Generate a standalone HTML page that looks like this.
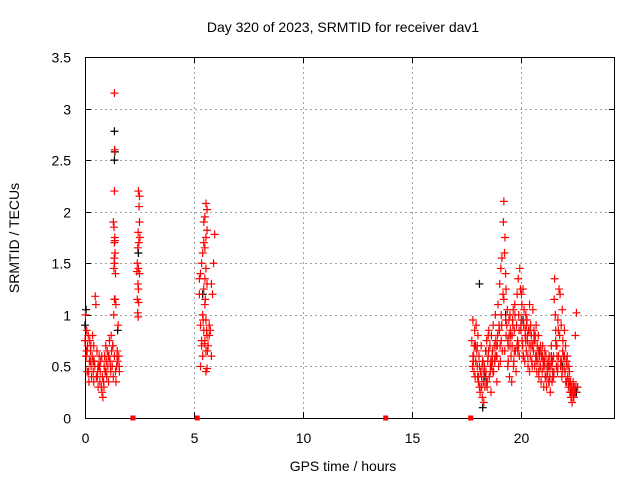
<!DOCTYPE html>
<html><head><meta charset="utf-8"><style>
body{margin:0;background:#fff;width:640px;height:480px;overflow:hidden}
text{font-family:"Liberation Sans",sans-serif;font-size:14px;fill:#000}
</style></head><body>
<svg id="chart" width="640" height="480" viewBox="0 0 640 480" xmlns="http://www.w3.org/2000/svg">
<rect width="640" height="480" fill="#fff"/>
<text x="343" y="32" text-anchor="middle">Day 320 of 2023, SRMTID for receiver dav1</text>
<text x="343" y="471" text-anchor="middle">GPS time / hours</text>
<text transform="translate(19,238) rotate(-90)" text-anchor="middle">SRMTID / TECUs</text>
<g id="grid"></g><g id="axes"></g><g id="marks"></g>
</svg>
<script>
const xTicks=[0,5,10,15,20];
const yTicks=[0,0.5,1,1.5,2,2.5,3,3.5];
const yTickLabels=["0","0.5","1","1.5","2","2.5","3","3.5"];
const gapHours=[2.2,5.15,13.8,17.7];
const redX=[0,0.02,0.05,0.08,0.1,0.12,0.15,0.18,0.2,0.22,0.25,0.28,0.3,0.33,0.35,0.38,0.4,0.42,0.45,0.47,0.5,0.52,0.55,0.58,0.6,0.62,0.65,0.68,0.7,0.72,0.75,0.78,0.8,0.82,0.85,0.88,0.9,0.92,0.95,0.98,1.0,1.02,1.05,1.08,1.1,1.12,1.15,1.18,1.2,1.22,1.25,1.28,1.3,1.32,1.35,1.38,1.4,1.42,1.45,1.48,1.5,1.52,1.55,1.58,0.1,0.25,0.4,0.6,0.15,0.05,
1.35,1.36,1.35,1.3,1.33,1.37,1.35,1.38,1.34,1.36,1.4,1.37,1.33,1.35,1.42,
2.45,2.5,2.48,2.5,2.44,2.52,2.47,2.42,2.4,2.45,2.38,2.5,2.43,2.45,2.4,2.46,2.42,2.44,
5.55,5.6,5.5,5.45,5.6,5.55,5.45,5.5,5.4,5.35,5.55,5.3,5.5,5.6,5.45,5.25,5.5,5.4,5.55,5.3,5.45,5.6,5.5,5.35,5.55,5.4,5.3,5.6,5.55,5.95,5.9,5.8,5.75,5.7,5.85,5.65,5.8,5.7,5.25,5.35,
17.75,17.78,17.8,17.83,17.85,17.88,17.9,17.93,17.95,17.98,18.0,18.03,18.05,18.08,18.1,18.13,18.15,18.18,18.2,18.23,18.25,18.28,18.3,18.33,18.35,18.38,18.4,18.43,18.45,18.48,18.5,18.53,18.55,18.58,18.6,18.63,18.65,18.68,18.7,18.73,18.75,18.78,18.8,18.83,18.85,18.88,18.9,18.93,18.95,18.98,19.0,19.03,19.05,19.08,19.1,19.13,19.15,19.18,19.2,19.22,19.25,19.27,19.3,19.32,19.35,19.38,19.4,19.42,19.45,19.48,19.5,19.53,19.55,19.58,19.6,19.63,19.65,19.68,19.7,19.73,19.75,19.78,19.8,19.83,19.85,19.88,19.9,19.93,19.95,19.98,20.0,20.03,20.05,20.08,20.1,20.13,20.15,20.18,20.2,20.23,20.25,20.28,20.3,20.33,20.35,20.38,20.4,20.43,20.45,20.48,20.5,20.53,20.55,20.58,20.6,20.63,20.65,20.68,20.7,20.73,20.75,20.78,20.8,20.83,20.85,20.88,20.9,20.93,20.95,20.98,21.0,21.03,21.05,21.08,21.1,21.13,21.15,21.18,21.2,21.23,21.25,21.28,21.3,21.33,21.35,21.38,21.4,21.43,21.45,21.48,21.5,21.53,21.55,21.58,21.6,21.63,21.65,21.68,21.7,21.73,21.75,21.78,21.8,21.83,21.85,21.88,21.9,21.93,21.95,21.98,22.0,22.03,22.05,22.08,22.1,22.13,22.15,22.18,22.2,22.23,22.25,22.28,22.3,22.33,22.35,22.38,22.4,22.43,22.45,22.5,22.55,22.6,
17.8,17.9,18.0,18.1,18.2,18.4,18.5,18.6,18.7,18.9,19.0,19.1,19.3,19.4,19.6,19.7,19.9,20.0,20.1,20.2,20.4,20.6,20.7,20.9,21.0,21.2,21.3,21.4,21.6,21.7,21.9,22.0,22.2,22.4,22.5,18.3,18.8,19.5,20.3,20.8,21.1,21.5,22.1,22.3,
17.82,17.92,18.02,18.12,18.22,18.32,18.42,18.52,18.62,18.72,18.82,18.92,19.02,19.12,19.22,19.32,19.42,19.52,19.62,19.72,19.82,19.92,20.02,20.12,20.22,20.32,20.42,20.52,20.62,20.72,20.82,20.92,21.02,21.12,21.22,21.32,21.42,21.52,21.62,21.72,21.82,21.92,22.02,22.12,22.22,22.32,22.42,22.52,
17.86,18.06,18.26,18.46,18.66,18.86,19.06,19.26,19.46,19.66,19.86,20.06,20.26,20.46,20.66,20.86,21.06,21.26,21.46,21.66,21.86,22.06,22.26,22.46,
0.07,0.17,0.27,0.37,0.57,0.67,0.77,0.87,0.97,1.07,1.17,1.27,1.47,1.57,5.42,5.52,5.62,5.48,5.58];
const redY=[0.75,1.0,0.6,0.85,0.45,0.7,0.8,0.35,0.55,0.75,0.65,0.5,0.4,0.6,0.8,0.45,0.35,0.55,0.5,1.18,1.1,0.4,0.65,0.45,0.3,0.5,0.6,0.35,0.45,0.55,0.3,0.25,0.4,0.2,0.35,0.5,0.6,0.45,0.7,0.55,0.4,0.65,0.5,0.35,0.6,0.75,0.55,0.45,0.8,0.65,0.5,0.7,0.4,1.0,0.6,1.15,0.45,0.35,0.5,0.65,0.55,0.9,0.6,0.45,0.65,0.55,0.7,0.5,0.45,0.6,
3.15,2.6,2.2,1.9,1.85,1.75,1.7,1.6,1.55,1.5,1.4,1.72,1.45,1.15,1.1,
2.2,2.15,2.05,1.9,1.8,1.75,1.7,1.65,1.5,1.45,1.42,1.4,1.3,1.25,1.15,1.12,1.02,0.98,
2.08,2.02,1.95,1.9,1.82,1.75,1.7,1.65,1.6,1.5,1.45,1.4,1.35,1.3,1.25,1.2,1.1,1.0,0.95,0.9,0.85,0.8,0.75,0.7,0.65,0.6,0.5,0.48,0.45,1.78,1.5,1.3,0.85,0.8,1.2,0.7,0.6,0.9,1.35,0.75,
0.75,0.5,0.95,0.6,0.45,0.85,0.7,0.55,0.9,0.65,0.5,0.8,0.35,0.6,0.3,0.25,0.45,0.7,0.4,0.2,0.55,0.35,0.15,0.5,0.3,0.65,0.45,0.75,0.3,0.55,0.6,0.85,0.4,0.7,0.5,0.25,0.8,0.6,0.65,0.9,0.45,0.7,0.55,1.0,0.75,0.6,0.35,0.8,1.1,0.5,0.85,1.3,0.7,1.45,1.0,1.55,0.65,1.2,1.9,2.1,1.6,1.75,1.4,1.25,0.9,1.05,0.75,0.55,0.95,0.4,1.0,0.8,0.6,0.35,0.7,0.9,1.05,0.55,0.85,1.0,0.65,0.45,0.9,1.2,0.75,1.35,1.0,0.6,1.45,1.25,0.85,1.2,1.1,0.7,1.25,0.9,1.05,0.55,0.8,1.0,0.65,0.95,0.75,0.5,0.85,0.7,1.1,0.6,0.9,0.8,0.55,0.7,1.05,0.65,0.85,0.5,0.75,0.6,0.9,0.45,0.7,0.55,0.8,0.4,0.65,0.5,0.7,0.35,0.6,0.45,0.7,0.5,0.3,0.55,0.65,0.4,0.6,0.3,0.5,0.45,0.55,0.35,0.6,0.4,0.25,0.5,0.7,0.35,0.55,0.4,0.6,1.15,1.35,1.0,0.85,0.5,0.7,0.45,0.95,0.6,1.25,0.8,1.2,0.55,0.9,0.4,1.05,0.75,0.6,0.5,0.85,0.45,0.7,0.55,0.35,0.6,0.4,0.3,0.5,0.45,0.25,0.35,0.2,0.3,0.15,0.25,0.35,0.2,0.3,0.8,1.02,0.3,
0.6,0.4,0.7,0.5,0.3,0.65,0.8,0.45,0.55,0.6,0.9,0.75,0.95,0.5,0.8,0.65,0.7,0.9,0.6,0.85,0.45,0.75,0.55,0.5,0.6,0.4,0.35,0.6,0.75,0.5,0.45,0.6,0.35,0.3,0.25,0.45,0.55,0.7,0.8,0.65,0.5,0.4,0.55,0.25,
0.55,0.7,0.4,0.3,0.5,0.45,0.35,0.65,0.55,0.45,0.6,0.7,0.85,0.9,1.15,0.8,0.7,0.85,0.95,1.1,0.7,0.85,0.95,0.6,0.75,0.6,0.85,0.5,0.8,0.6,0.45,0.65,0.55,0.4,0.45,0.5,0.55,0.45,0.7,0.85,0.5,0.65,0.45,0.5,0.35,0.25,0.2,0.3,
0.7,0.4,0.55,0.35,0.5,0.7,0.55,0.65,0.8,0.5,0.65,0.75,0.9,0.7,0.8,0.6,0.55,0.5,0.45,0.6,0.55,0.35,0.3,0.25,
0.65,0.45,0.7,0.55,0.4,0.5,0.6,0.3,0.45,0.6,0.5,0.7,0.6,0.5,0.95,1.15,0.65,0.72,0.85];
const blackX=[1.35,1.35,1.37,18.25,18.1,0.05,1.5,20.1,21.9,22.6,5.4,2.45,0.0,19.3,21.4,22.55,18.35];
const blackY=[2.78,2.5,2.58,0.1,1.3,1.05,0.85,0.95,0.5,0.3,1.2,1.6,0.9,1.0,0.6,0.25,0.4];

const L=85,R=615,T=57,B=418,XMAX=24.32,YMAX=3.5;
const sx=v=>L+v/XMAX*(R-L);
const sy=v=>B-v/YMAX*(B-T);
const NS="http://www.w3.org/2000/svg";
function mk(tag,attrs,parent){const e=document.createElementNS(NS,tag);for(const k in attrs)e.setAttribute(k,attrs[k]);parent.appendChild(e);return e;}
const grid=document.getElementById('grid'),axes=document.getElementById('axes'),marks=document.getElementById('marks');
yTicks.forEach((t,i)=>{const y=Math.round(sy(t))+0.5;
 if(i>0&&i<yTicks.length-1){const g=mk('line',{x1:L,x2:R,y1:y,y2:y,stroke:'#a0a0a0','stroke-dasharray':'2,3'},grid);
 
 }
 mk('line',{x1:L,x2:L+6,y1:y,y2:y,stroke:'#000'},axes);
 mk('line',{x1:R-6,x2:R,y1:y,y2:y,stroke:'#000'},axes);
 const tx=mk('text',{x:71,y:y+5,'text-anchor':'end'},axes);tx.textContent=yTickLabels[i];
 
 
});
xTicks.forEach(t=>{const x=Math.round(sx(t))+0.5;
 if(t>0){const g=mk('line',{x1:x,x2:x,y1:T,y2:B,stroke:'#a0a0a0','stroke-dasharray':'2,3'},grid);
 
 }
 mk('line',{x1:x,x2:x,y1:B-6,y2:B,stroke:'#000'},axes);
 mk('line',{x1:x,x2:x,y1:T,y2:T+6,stroke:'#000'},axes);
 const tx=mk('text',{x:x,y:443,'text-anchor':'middle'},axes);tx.textContent=String(t);
 
 
});
const fr=mk('rect',{x:L+0.5,y:T+0.5,width:R-L-1,height:B-T,fill:'none',stroke:'#000'},axes);


function plus(x,y,c){const px=sx(x),py=sy(y);
 const p=mk('path',{d:`M${px-4} ${py}H${px+4}M${px} ${py-4}V${py+4}`,stroke:c,'stroke-width':1.2,fill:'none'},marks);
 return p;}
blackX.forEach((x,i)=>{const p=plus(x,blackY[i],'#000');
 
 });
redX.forEach((x,i)=>{const p=plus(x,redY[i],'#ff0000');
 
 });
gapHours.forEach(h=>{const r=mk('rect',{x:sx(h)-2.5,y:B-2.5,width:5,height:5,fill:'#ff0000'},marks);
 
 });
</script>
</body></html>
